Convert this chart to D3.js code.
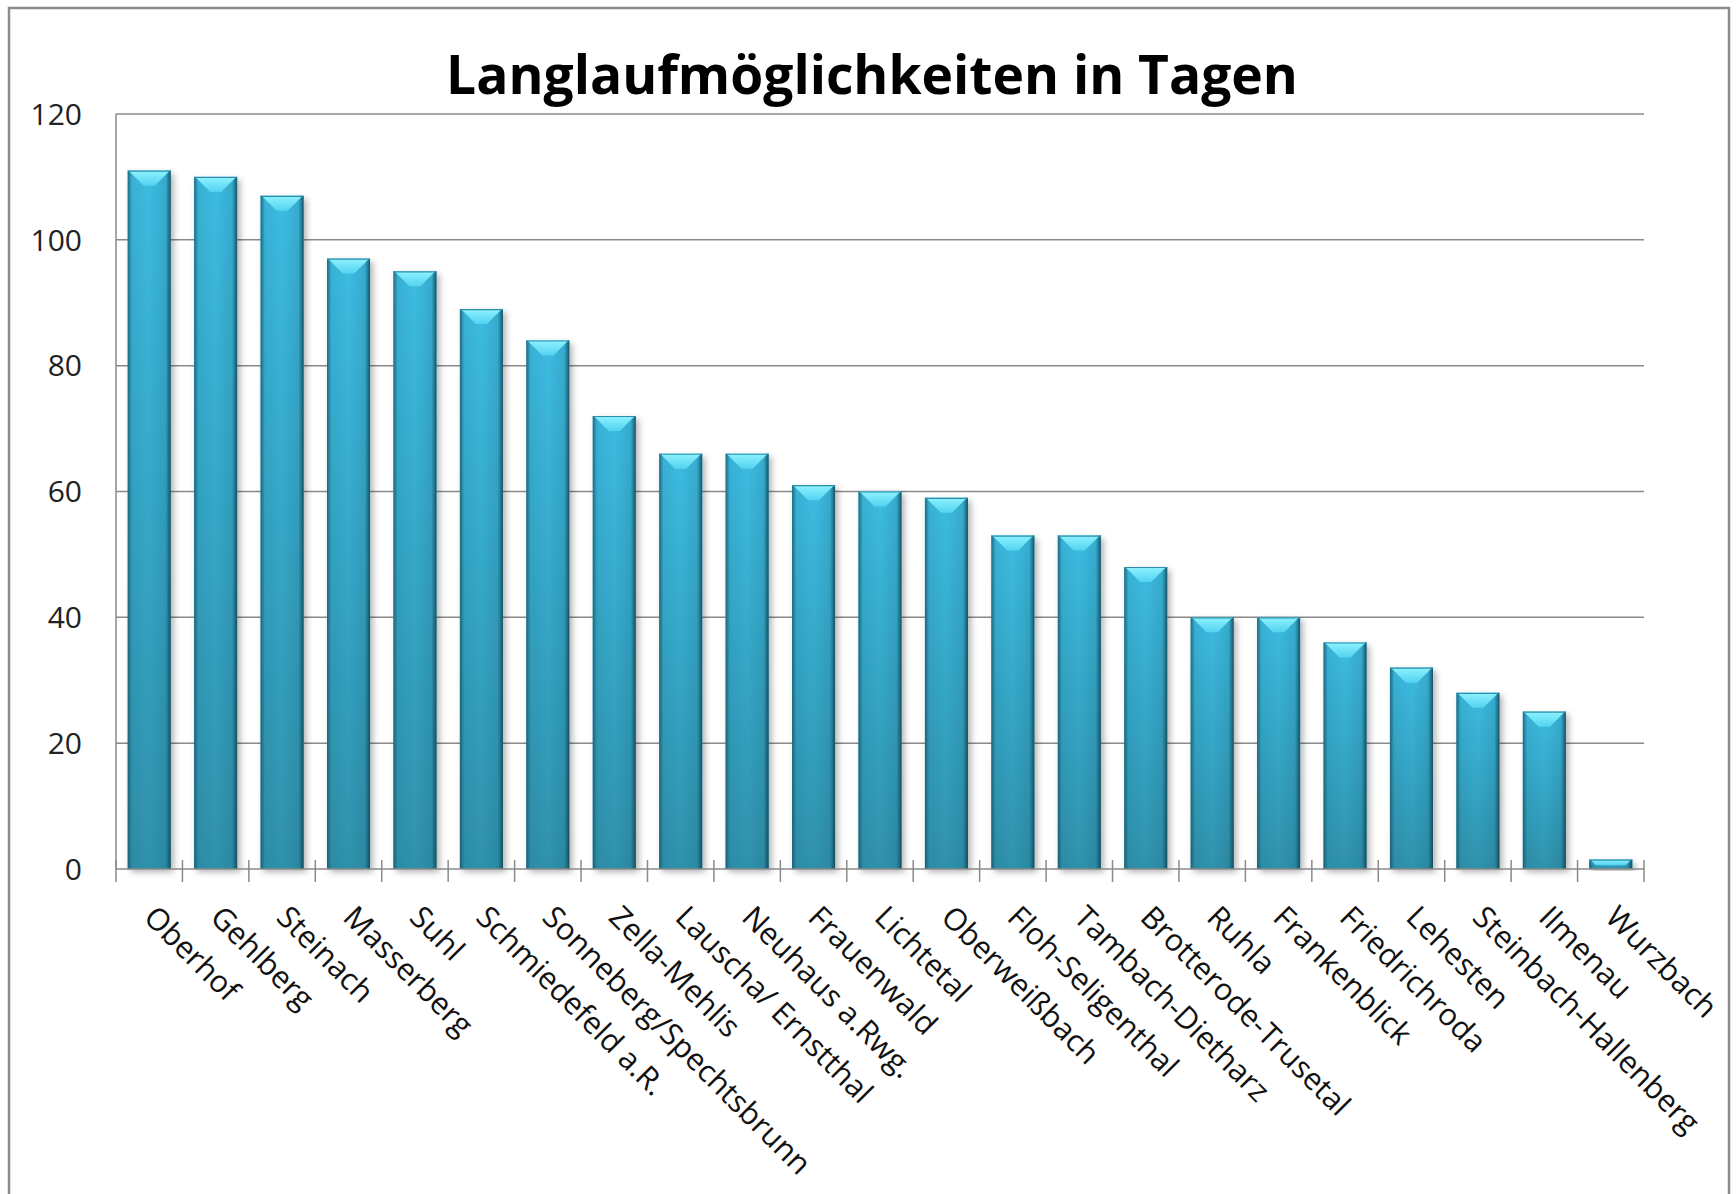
<!DOCTYPE html>
<html>
<head>
<meta charset="utf-8">
<script src="https://cdn.jsdelivr.net/npm/d3@7"></script>
<style>
  html, body { margin: 0; padding: 0; background: #fff; }
  svg { display: block; }
</style>
</head>
<body>
<div id="chart"></div>
<script>
// Langlauf days per location
const orte = ['Oberhof', 'Gehlberg', 'Steinach', 'Masserberg', 'Suhl', 'Schmiedefeld a.R.',
  'Sonneberg/Spechtsbrunn', 'Zella-Mehlis', 'Lauscha/ Ernstthal', 'Neuhaus a.Rwg.', 'Frauenwald',
  'Lichtetal', 'Oberweißbach', 'Floh-Seligenthal', 'Tambach-Dietharz', 'Brotterode-Trusetal',
  'Ruhla', 'Frankenblick', 'Friedrichroda', 'Lehesten', 'Steinbach-Hallenberg', 'Ilmenau', 'Wurzbach'];
const tage = [111, 110, 107, 97, 95, 89, 84, 72, 66, 66, 61, 60, 59, 53, 53, 48, 40, 40, 36, 32, 28, 25, 1.5];
const yTicks = [0, 20, 40, 60, 80, 100, 120];
const titel = 'Langlaufmöglichkeiten in Tagen';

const W = 1736, H = 1194;
const pL = 116, pR = 1644, pT = 114, pB = 869;
const font = '"Open Sans", sans-serif';

const svg = d3.select('#chart').append('svg')
  .attr('width', W).attr('height', H);

const defs = svg.append('defs');

// body gradient (vertical) light -> darker
const gBody = defs.append('linearGradient').attr('id', 'body')
  .attr('x1', 0).attr('y1', 0).attr('x2', 0).attr('y2', 1);
gBody.append('stop').attr('offset', '0%').attr('stop-color', '#3cbce2');
gBody.append('stop').attr('offset', '100%').attr('stop-color', '#2f92ad');

// dark edges (horizontal)
const gEdge = defs.append('linearGradient').attr('id', 'edge')
  .attr('x1', 0).attr('y1', 0).attr('x2', 1).attr('y2', 0);
gEdge.append('stop').attr('offset', '0%').attr('stop-color', '#134f60').attr('stop-opacity', 0.75);
gEdge.append('stop').attr('offset', '10%').attr('stop-color', '#134f60').attr('stop-opacity', 0.1);
gEdge.append('stop').attr('offset', '50%').attr('stop-color', '#134f60').attr('stop-opacity', 0);
gEdge.append('stop').attr('offset', '88%').attr('stop-color', '#134f60').attr('stop-opacity', 0.15);
gEdge.append('stop').attr('offset', '100%').attr('stop-color', '#0d3f4e').attr('stop-opacity', 0.85);

// bevel on top
const gBev = defs.append('linearGradient').attr('id', 'bevel')
  .attr('x1', 0).attr('y1', 0).attr('x2', 0).attr('y2', 1);
gBev.append('stop').attr('offset', '0%').attr('stop-color', '#8ff2ff');
gBev.append('stop').attr('offset', '100%').attr('stop-color', '#52d3f0');

const shadow = defs.append('filter').attr('id', 'shadow')
  .attr('x', '-30%').attr('y', '-10%').attr('width', '160%').attr('height', '130%');
shadow.append('feDropShadow').attr('dx', 3).attr('dy', 3).attr('stdDeviation', 3)
  .attr('flood-color', '#000').attr('flood-opacity', 0.3);

// outer frame
svg.append('rect')
  .attr('x', 9).attr('y', 8).attr('width', 1720).attr('height', 1200)
  .attr('fill', '#fff').attr('stroke', '#8c8c8c').attr('stroke-width', 2.5);

const x = d3.scaleBand().domain(orte).range([pL, pR]).paddingInner(0.352).paddingOuter(0.176);
const xb = d3.scaleBand().domain(orte).range([pL, pR]); // for tick positions
const y = d3.scaleLinear().domain([0, 120]).range([pB, pT]);

// gridlines
svg.append('g').selectAll('line')
  .data(yTicks.filter(d => d > 0))
  .enter().append('line')
  .attr('x1', pL).attr('x2', pR)
  .attr('y1', d => y(d)).attr('y2', d => y(d))
  .attr('stroke', '#8a8a8a').attr('stroke-width', 1.5);

// y axis line
svg.append('line')
  .attr('x1', pL).attr('x2', pL).attr('y1', pT).attr('y2', pB)
  .attr('stroke', '#8a8a8a').attr('stroke-width', 1.5);

// y tick labels
svg.append('g').selectAll('text')
  .data(yTicks)
  .enter().append('text')
  .attr('x', 82).attr('y', d => y(d))
  .attr('dy', '0.36em')
  .attr('text-anchor', 'end')
  .attr('font-family', font).attr('font-size', 30).attr('fill', '#222')
  .text(d => d);

// bars
const bars = svg.append('g').selectAll('g.bar')
  .data(orte.map((o, i) => ({ ort: o, v: tage[i] })))
  .enter().append('g').attr('class', 'bar');

bars.append('rect')
  .attr('x', d => x(d.ort)).attr('y', d => y(d.v))
  .attr('width', x.bandwidth()).attr('height', d => pB - y(d.v))
  .attr('fill', 'url(#body)')
  .attr('filter', 'url(#shadow)');

bars.append('rect')
  .attr('x', d => x(d.ort)).attr('y', d => y(d.v))
  .attr('width', x.bandwidth()).attr('height', d => pB - y(d.v))
  .attr('fill', 'url(#edge)');

bars.append('path')
  .attr('d', d => {
    const x0 = x(d.ort), w = x.bandwidth(), t = y(d.v);
    const b = Math.min(15, (pB - t) * 0.6);
    return `M${x0 + 1},${t}L${x0 + w - 1},${t}L${x0 + w - 1 - b},${t + b}L${x0 + 1 + b},${t + b}Z`;
  })
  .attr('fill', 'url(#bevel)');

bars.append('line')
  .attr('x1', d => x(d.ort)).attr('x2', d => x(d.ort) + x.bandwidth())
  .attr('y1', d => y(d.v) + 0.5).attr('y2', d => y(d.v) + 0.5)
  .attr('stroke', '#2a8fab').attr('stroke-width', 1.2);

// x axis line + ticks
svg.append('line')
  .attr('x1', pL).attr('x2', pR).attr('y1', pB).attr('y2', pB)
  .attr('stroke', '#8a8a8a').attr('stroke-width', 1.5);

const tickPos = orte.map(o => xb(o)).concat([pR]);
svg.append('g').selectAll('line')
  .data(tickPos)
  .enter().append('line')
  .attr('x1', d => d).attr('x2', d => d)
  .attr('y1', pB - 9).attr('y2', pB + 13)
  .attr('stroke', '#8a8a8a').attr('stroke-width', 1.5);

// x labels, rotated 45°
svg.append('g').selectAll('text')
  .data(orte)
  .enter().append('text')
  .attr('transform', d => `translate(${xb(d) + xb.bandwidth() / 2 - 7},${pB + 50}) rotate(45)`)
  .attr('font-family', font).attr('font-size', 30.5).attr('fill', '#111')
  .text(d => d);

// title
const t = svg.append('text')
  .attr('x', 872).attr('y', 94)
  .attr('text-anchor', 'middle')
  .attr('font-family', font).attr('font-weight', 700).attr('font-size', 56)
  .attr('fill', '#000')
  .text(titel);
const tw = t.node().getComputedTextLength();
t.attr('font-size', 56 * 852 / tw);
</script>
</body>
</html>
